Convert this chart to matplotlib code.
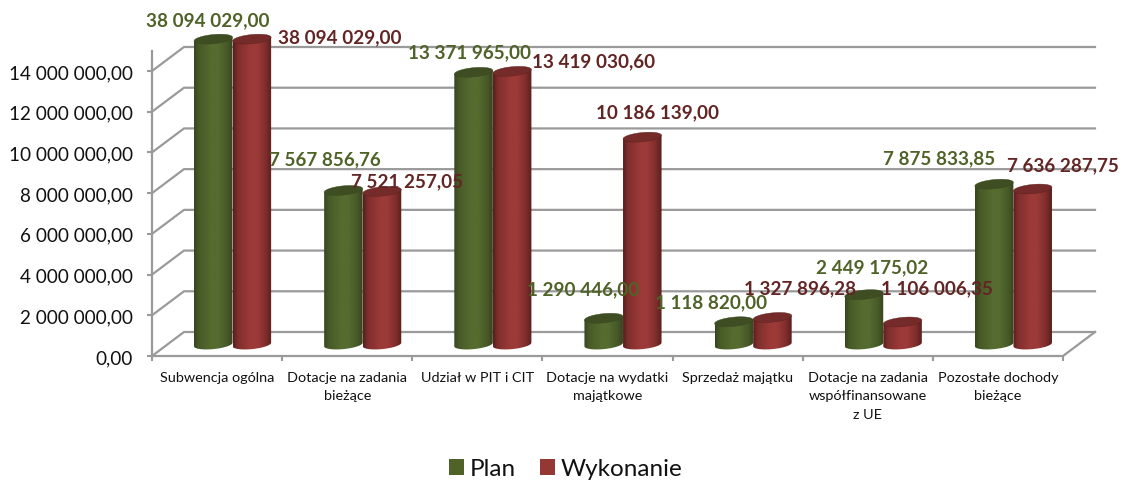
import matplotlib
matplotlib.use("Agg")
import matplotlib.pyplot as plt
import numpy as np
from matplotlib.patches import PathPatch, Patch, Polygon
from matplotlib.path import Path

plt.rcParams["font.family"] = ["Lato", "DejaVu Sans"]

categories = [
    "Subwencja ogólna",
    "Dotacje na zadania\nbieżące",
    "Udział w PIT i CIT",
    "Dotacje na wydatki\nmajątkowe",
    "Sprzedaż majątku",
    "Dotacje na zadania\nwspółfinansowane\nz UE",
    "Pozostałe dochody\nbieżące",
]
plan = [38094029.00, 7567856.76, 13371965.00, 1290446.00, 1118820.00, 2449175.02, 7875833.85]
wykonanie = [38094029.00, 7521257.05, 13419030.60, 10186139.00, 1327896.28, 1106006.35, 7636287.75]
y_ticks = [0, 2000000, 4000000, 6000000, 8000000, 10000000, 12000000, 14000000]

W, H = 1124, 481
PX_X = 130.14           # szerokosc kategorii w px
PX_Y = 285 / 14000000   # px na jednostke
AXIS_MAX = 15000000


def fmt(v):
    return f"{v:,.2f}".replace(",", " ").replace(".", ",")


fig = plt.figure(figsize=(W / 100, H / 100), dpi=100)
ax = fig.add_axes([0, 0, 1, 1])
ax.set_xlim(-152 / PX_X, (W - 152) / PX_X)
ax.set_ylim(-(H - 357) / PX_Y, 357 / PX_Y)
ax.patch.set_alpha(0)

# glebokosc sciany tylnej
dx = 32 / PX_X
dy = 24 / PX_Y
grid_color = "#9a9a9a"
for v in y_ticks:
    ax.plot([0, dx, 7 + dx], [v, v + dy, v + dy], color=grid_color, lw=1.6, zorder=1)
ax.plot([7, 7 + dx], [0, dy], color=grid_color, lw=1.6, zorder=1)

for side in ["top", "right"]:
    ax.spines[side].set_visible(False)
for side in ["left", "bottom"]:
    ax.spines[side].set_position(("data", 0))
    ax.spines[side].set_color(grid_color)
    ax.spines[side].set_linewidth(1.6)
ax.spines["left"].set_bounds(0, AXIS_MAX)
ax.spines["bottom"].set_bounds(0, 7)

ax.set_yticks(y_ticks)
ax.set_yticklabels([fmt(v) for v in y_ticks], fontsize=13.6, color="#111111")
ax.tick_params(axis="y", length=3.5, width=1.5, color=grid_color, pad=10.5)
ax.set_xticks(range(8))
ax.set_xticklabels([])
ax.tick_params(axis="x", length=3.5, width=1.5, color=grid_color)
ax.set_xticks(np.arange(7) + 0.5, minor=True)
ax.set_xticklabels(categories, minor=True, fontsize=10.4, color="#111111", linespacing=1.65)
ax.tick_params(axis="x", which="minor", length=0, pad=10.5)


def shade(rgb_edge, rgb_mid):
    # pozioma gradacja cylindra
    t = np.array([0, 0.12, 0.45, 0.62, 0.85, 1.0])
    k = np.array([0.0, 0.55, 1.0, 1.0, 0.55, 0.0])
    xs = np.linspace(0, 1, 60)
    mix = np.interp(xs, t, k)[None, :, None]
    e = np.array(matplotlib.colors.to_rgb(rgb_edge))[None, None, :]
    m = np.array(matplotlib.colors.to_rgb(rgb_mid))[None, None, :]
    return e + (m - e) * mix


def cylinder(xc, value, edge, mid, top):
    w = 38.5 / PX_X
    base = 11.5 / PX_Y
    ry = 4.6 / PX_Y
    tilt = 1.8 / PX_Y    # elipsy lekko pochylone
    h = min(value, AXIS_MAX)
    bar = ax.bar(xc, h, width=w, bottom=base, color=mid, linewidth=0, zorder=2)[0]
    a = np.linspace(np.pi, 2 * np.pi, 40)
    ex = xc + w / 2 * np.cos(a)
    ey = base + ry * np.sin(a) + tilt * np.cos(a)
    vx = np.r_[ex, xc + w / 2, xc - w / 2, ex[0]]
    vy = np.r_[ey, base + h + tilt, base + h - tilt, ey[0]]
    outline = PathPatch(Path(np.c_[vx, vy]), transform=ax.transData, fc="none", ec="none")
    ax.add_patch(outline)
    bar.set_visible(False)
    im = ax.imshow(shade(edge, mid), extent=[xc - w / 2, xc + w / 2, base - ry - tilt, base + h + tilt],
                   aspect="auto", zorder=3, interpolation="bilinear")
    im.set_clip_path(outline)
    a = np.linspace(0, 2 * np.pi, 80)
    tx = xc + w / 2 * np.cos(a)
    ty = base + h + ry * np.sin(a) + tilt * np.cos(a)
    ax.add_patch(Polygon(np.c_[tx, ty], fc=top, ec=edge, lw=0.3, zorder=4))
    return bar


green = ("#38451f", "#556b2f", "#3e4e22")
red = ("#5a1f1e", "#9c3a38", "#752b2a")
offset = 15.5 / PX_X
half = 19.3 / PX_X
for i in range(7):
    cylinder(i + 0.5 + offset - half, plan[i], *green)
    cylinder(i + 0.5 + offset + half, wykonanie[i], *red)

ax.set_xlim(-152 / PX_X, (W - 152) / PX_X)
ax.set_ylim(-(H - 357) / PX_Y, 357 / PX_Y)

# etykiety danych - recznie przesuniete jak w oryginale (px)
plan_pos = [(208, 21), (325, 160), (469, 53), (583, 290), (711, 303), (872, 268), (939, 159)]
wyk_pos = [(340, 38), (407, 182), (594, 62), (658, 113), (800, 289), (937, 289), (1063, 166)]
for vals, pos, col in [(plan, plan_pos, "#4f6228"), (wykonanie, wyk_pos, "#632523")]:
    for v, (px, py) in zip(vals, pos):
        ax.text((px - 152) / PX_X, (357 - py) / PX_Y, fmt(v), color=col, fontsize=13.6,
                fontweight="bold", ha="center", va="center", zorder=6)

handles = [Patch(fc="#4f6228", label="Plan"), Patch(fc="#953735", label="Wykonanie")]
ax.legend(handles=handles, ncol=2, frameon=False, loc="center", fontsize=17.5,
          bbox_to_anchor=(566 / W, 1 - 470 / H), handlelength=0.62, handleheight=0.62,
          handletextpad=0.23, columnspacing=1.0, borderpad=0, labelcolor="#111111")

fig.savefig("out.png", dpi=100)
